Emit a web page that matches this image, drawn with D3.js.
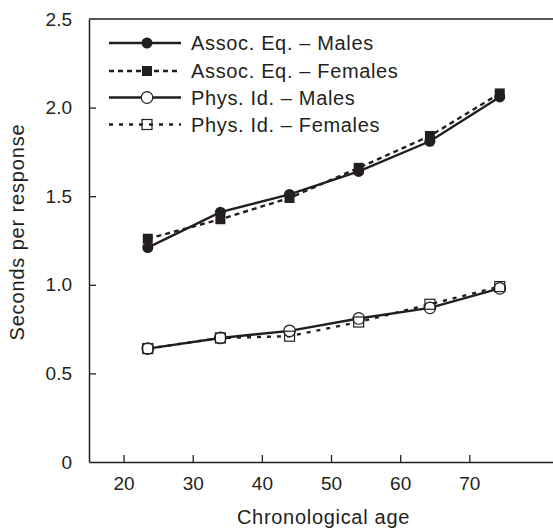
<!DOCTYPE html>
<html>
<head>
<meta charset="utf-8">
<script src="https://cdn.jsdelivr.net/npm/d3@7"></script>
<style>
  html, body { margin: 0; padding: 0; background: #fff; }
  svg { display: block; }
  text { font-family: "Liberation Sans", Arial, Helvetica, sans-serif; fill: #231f20; }
</style>
</head>
<body>
<svg id="chart" width="553" height="529"></svg>
<script>
// Mean response time by age group
const ages = [23.5, 34, 44, 54, 64.3, 74.4];
const assocMales   = [1.21, 1.41, 1.51, 1.64, 1.81, 2.06];
const assocFemales = [1.26, 1.37, 1.49, 1.66, 1.84, 2.08];
const physMales    = [0.64, 0.70, 0.74, 0.81, 0.87, 0.98];
const physFemales  = [0.64, 0.70, 0.71, 0.79, 0.89, 0.99];

const xTicks = [20, 30, 40, 50, 60, 70];
const yTicks = [0, 0.5, 1.0, 1.5, 2.0, 2.5];
const yTickLabels = ["0", "0.5", "1.0", "1.5", "2.0", "2.5"];

const seriesNames = ["Assoc. Eq. – Males", "Assoc. Eq. – Females", "Phys. Id. – Males", "Phys. Id. – Females"];

const ink = "#231f20";
const series = [
  { name: seriesNames[0], values: assocMales,   dash: null,  marker: "dot",    fill: ink },
  { name: seriesNames[1], values: assocFemales, dash: "5,4", marker: "square", fill: ink },
  { name: seriesNames[2], values: physMales,    dash: null,  marker: "dot",    fill: "#fff" },
  { name: seriesNames[3], values: physFemales,  dash: "4,6", marker: "square", fill: "#fff" }
];

const svg = d3.select("#chart");
const plotL = 89, plotT = 19, plotR = 553, plotB = 462;

const x = d3.scaleLinear().domain([15, 82.1]).range([plotL, plotR]);
const y = d3.scaleLinear().domain([0, 2.5]).range([plotB, plotT]);

// Frame: left axis, top and bottom rules
svg.append("line").attr("x1", plotL).attr("x2", plotR).attr("y1", plotT).attr("y2", plotT)
  .attr("stroke", ink).attr("stroke-width", 1.5);

const xAxis = svg.append("g").attr("transform", `translate(0,${plotB})`)
  .call(d3.axisBottom(x).tickValues(xTicks).tickSizeInner(-7).tickSizeOuter(0).tickPadding(15));
const yAxis = svg.append("g").attr("transform", `translate(${plotL},0)`)
  .call(d3.axisLeft(y).tickValues(yTicks).tickFormat((d, i) => yTickLabels[i]).tickSizeInner(-7).tickSizeOuter(0).tickPadding(17));

[xAxis, yAxis].forEach(g => {
  g.select(".domain").attr("stroke", ink).attr("stroke-width", 1.5);
  g.selectAll(".tick line").attr("stroke", ink).attr("stroke-width", 1.3);
  g.selectAll(".tick text").attr("font-size", 19).attr("fill", ink)
    .style("font-family", '"Liberation Sans", Arial, Helvetica, sans-serif');
});
// no inner tick marks at the ends of the y axis
yAxis.selectAll(".tick line").filter(d => d === 0 || d === 2.5).remove();
xAxis.selectAll(".tick text").attr("dy", "0.71em");

// Axis titles
svg.append("text").attr("x", 323.5).attr("y", 524).attr("text-anchor", "middle")
  .attr("font-size", 20).attr("letter-spacing", 0.7).text("Chronological age");
svg.append("text").attr("transform", "translate(24,232) rotate(-90)").attr("text-anchor", "middle")
  .attr("font-size", 20).attr("letter-spacing", 0.85).text("Seconds per response");

// Lines
const line = d3.line().x((d, i) => x(ages[i])).y(d => y(d));
series.forEach(s => {
  svg.append("path").datum(s.values).attr("d", line)
    .attr("fill", "none").attr("stroke", ink).attr("stroke-width", 2.4)
    .attr("stroke-dasharray", s.dash);
});

function drawMarker(g, s, cx, cy) {
  if (s.marker === "dot") {
    g.append("circle").attr("cx", cx).attr("cy", cy)
      .attr("r", s.fill === ink ? 5.5 : 5.8)
      .attr("fill", s.fill).attr("stroke", ink).attr("stroke-width", s.fill === ink ? 0 : 1.2);
  } else {
    const h = 10;
    g.append("rect").attr("x", cx - h / 2).attr("y", cy - h / 2).attr("width", h).attr("height", h)
      .attr("fill", s.fill === ink ? ink : "none").attr("stroke", ink).attr("stroke-width", s.fill === ink ? 0 : 1.2);
  }
}

// Markers
series.forEach(s => {
  const g = svg.append("g");
  s.values.forEach((v, i) => drawMarker(g, s, x(ages[i]), y(v)));
});

// Legend
const legend = svg.append("g");
const legRows = [43, 71, 97.5, 124.5];
series.forEach((s, i) => {
  const ly = legRows[i];
  legend.append("line").attr("x1", 109).attr("x2", 181).attr("y1", ly).attr("y2", ly)
    .attr("stroke", ink).attr("stroke-width", 2.4).attr("stroke-dasharray", s.dash);
  drawMarker(legend, s, 147, ly);
  legend.append("text").attr("x", 191).attr("y", ly + 7.3)
    .attr("font-size", 20).attr("letter-spacing", 0.65).text(s.name);
});
</script>
</body>
</html>
